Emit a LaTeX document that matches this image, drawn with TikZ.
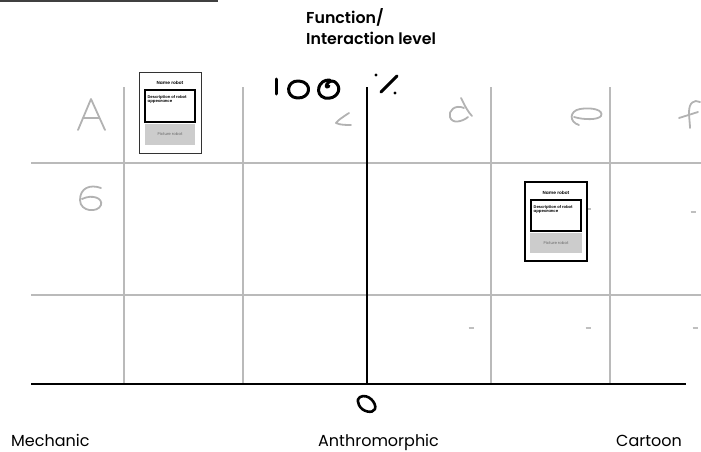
\documentclass[tikz,border=0pt]{standalone}
\usepackage{fontspec}
\setmainfont{Poppins}[BoldFont={Poppins SemiBold}]
\begin{document}
\begin{tikzpicture}[x=1pt,y=-1pt,
  gridline/.style={draw=black!27,line width=1.8pt},
  axisline/.style={draw=black,line width=2.4pt},
  hand/.style={draw=black,line width=3pt,line cap=round,line join=round},
  ghand/.style={draw=black!30,line width=1.8pt,line cap=round,line join=round},
  axlabel/.style={font=\fontsize{16}{18}\selectfont,anchor=base west,inner sep=0pt},
  cardouter/.style={draw=black!80,line width=0.9pt,fill=white},
  cardinner/.style={draw=black,line width=1.6pt,fill=white},
  cardpic/.style={fill=black!20,draw=none},
  nametxt/.style={font=\fontsize{4.4}{5}\selectfont\bfseries,inner sep=0pt},
  desctxt/.style={font=\fontsize{3.9}{4.6}\selectfont\bfseries,inner sep=0pt,align=left,anchor=north west},
  pictxt/.style={font=\fontsize{3.9}{4.6}\selectfont,text=black!60,inner sep=0pt}]
\useasboundingbox (0,0) rectangle (701,452);
% top-left remnant line
\draw[draw=black!75,line width=1.4pt] (0,1) -- (218,1);
% grid
\draw[gridline] (31,163) -- (701,163);
\draw[gridline] (31,295) -- (701,295);
\foreach \x in {124,243,491,610} \draw[gridline] (\x,87) -- (\x,384);
% axes
\coordinate (ytop) at (367,87);
\coordinate (origin) at (367,384);
\coordinate (xl) at (31,384);
\coordinate (xr) at (686,384);
\draw[axisline] (ytop) -- (origin);
\draw[axisline] (xl) -- (xr);
% title
\node[font=\fontsize{15.8}{21}\selectfont\bfseries,align=left,anchor=north west,inner sep=0pt] (title) at (306,8) {Function/\\Interaction level};
% axis labels
\node[axlabel] (mech) at (11,446) {Mechanic};
\node[axlabel] (anth) at (318,446) {Anthromorphic};
\node[axlabel] (cart) at (616,446) {Cartoon};
% handwritten 100 %
\draw[hand] (276,79) -- (276,94);
\draw[hand] (299,81) .. controls (286,80) and (285,97) .. (297,98) .. controls (311,99) and (313,82) .. (299,81);
\draw[hand] (330,80) .. controls (318,79) and (314,95) .. (325,98) .. controls (336,100) and (342,90) .. (337,84) .. controls (334,80) and (330,80) .. (327,84) .. controls (325,87) and (327,88) .. (329,86);
\fill (376,75) circle (1.6pt);
\draw[hand] (381,92) -- (397,76);
\fill (395,93) circle (1.6pt);
% handwritten 0
\draw[hand,line width=2.6pt] (360,397) .. controls (368,393) and (377,403) .. (375,409) .. controls (373,414) and (362,412) .. (359,405) .. controls (357,400) and (358,398) .. (360,397);
% gray letters
\draw[ghand] (78,130) -- (91,99) -- (105,130);
\draw[ghand] (83,118) -- (99,118);
\draw[ghand] (349,113) .. controls (343,117) and (338,120) .. (336,123) .. controls (340,125) and (346,125) .. (351,125);
\draw[ghand] (464,108) .. controls (455,104) and (448,111) .. (450,117) .. controls (452,124) and (462,122) .. (468,117);
\draw[ghand] (461,98) .. controls (465,106) and (468,112) .. (472,116);
\draw[ghand] (579,125) .. controls (569,122) and (569,111) .. (580,109) .. controls (592,107) and (604,110) .. (601,116) .. controls (598,120) and (584,120) .. (574,117);
\draw[ghand] (700,102) .. controls (694,99) and (689,103) .. (689,112) .. controls (689,118) and (690,124) .. (690,128);
\draw[ghand] (679,118) -- (698,112);
\draw[ghand] (101,188) .. controls (90,184) and (80,188) .. (80,200) .. controls (80,212) and (98,213) .. (101,205) .. controls (103,198) and (92,194) .. (82,199);
% small gray marks
\foreach \px/\py in {588/209,693/212,471/328,588/328,695/328}
  \draw[draw=black!25,line width=1.4pt] (\px-2.5,\py) -- (\px+2.5,\py);
% card 1
\draw[cardouter] (139,72) rectangle (201,153);
\node[nametxt] (n1) at (170,83) {Name robot};
\draw[cardinner] (145,90) rectangle (195,122);
\node[desctxt] (d1) at (147.5,95) {Description of robot\\appearance};
\fill[cardpic] (145,124) rectangle (195,145);
\node[pictxt] (p1) at (170,134.5) {Picture robot};
% card 2
\draw[cardouter,draw=black,line width=1.5pt] (525,182) rectangle (587,261);
\node[nametxt] (n2) at (556,193) {Name robot};
\draw[cardinner] (531,200) rectangle (581,231);
\node[desctxt] (d2) at (533.5,205) {Description of robot\\appearance};
\fill[cardpic] (530,233) rectangle (582,253);
\node[pictxt] (p2) at (556,243) {Picture robot};
\end{tikzpicture}
\end{document}
